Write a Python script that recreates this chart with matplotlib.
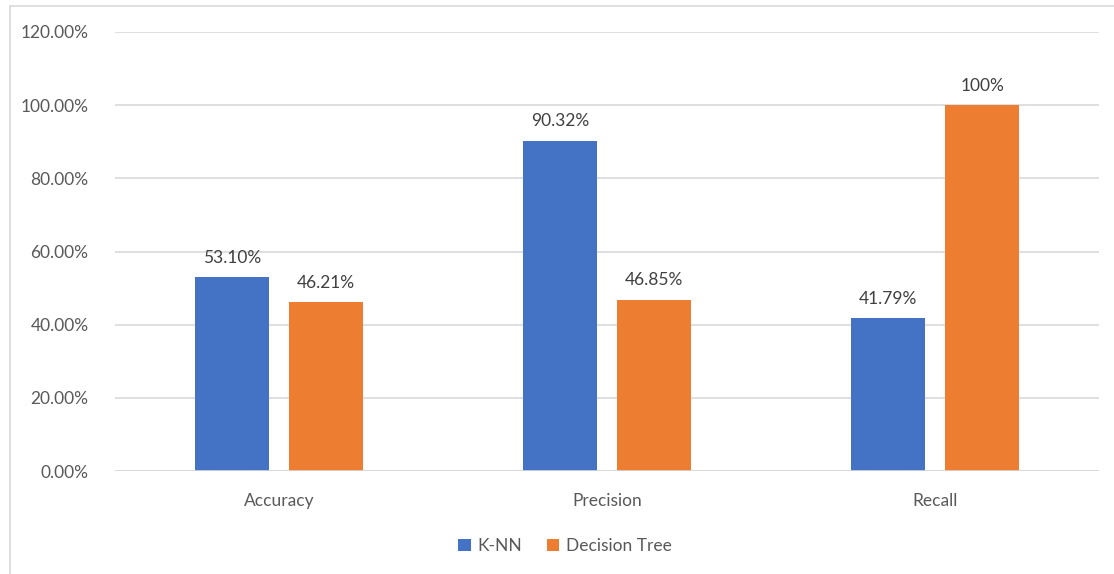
import numpy as np
import matplotlib
matplotlib.use('agg')
import matplotlib.pyplot as plt
from matplotlib.lines import Line2D

plt.rcParams['font.family'] = ['Lato', 'DejaVu Sans']

categories = ['Accuracy', 'Precision', 'Recall']
knn = [53.10, 90.32, 41.79]
dtree = [46.21, 46.85, 100.0]
knn_labels = ['53.10%', '90.32%', '41.79%']
dtree_labels = ['46.21%', '46.85%', '100%']
yticks = [0, 20, 40, 60, 80, 100, 120]

blue = '#4472C4'
orange = '#ED7D31'
txt = '#595959'
grid = '#D9D9D9'
fs = 12.5

fig = plt.figure(figsize=(11.14, 5.74), dpi=100)
ax = fig.add_axes([115 / 1114, 1 - 471 / 574, 984 / 1114, 439 / 574])

x = np.arange(len(categories))
w = 0.224
off = 0.144
b1 = ax.bar(x - off, knn, w, color=blue, label='K-NN', zorder=3)
b2 = ax.bar(x + off, dtree, w, color=orange, label='Decision Tree', zorder=3)

for bars, labs in [(b1, knn_labels), (b2, dtree_labels)]:
    for b, l in zip(bars, labs):
        ax.annotate(l, (b.get_x() + b.get_width() / 2, b.get_height()),
                    xytext=(0, 8), textcoords='offset points',
                    ha='center', va='bottom', fontsize=fs, color='#404040')

ax.set_xlim(-0.5, 2.5)
ax.set_ylim(0, 120)
ax.set_yticks(yticks)
ax.set_yticklabels(['%.2f%%' % t for t in yticks])
ax.set_xticks(x)
ax.set_xticklabels(categories)
ax.tick_params(axis='both', length=0, labelsize=fs, labelcolor=txt)
ax.tick_params(axis='y', pad=19)
ax.tick_params(axis='x', pad=16)
ax.grid(axis='y', color=grid, linewidth=1.2, zorder=0)
for s in ax.spines.values():
    s.set_visible(False)
ax.axhline(0, color=grid, linewidth=1.2, zorder=4)

fig.legend(handles=[b1, b2], loc='center', bbox_to_anchor=(565 / 1114, 1 - 546 / 574),
           ncol=2, frameon=False, fontsize=fs, labelcolor=txt,
           handlelength=0.7, handleheight=0.7, handletextpad=0.4, columnspacing=1.4)

# outer chart border (only left and top are visible in the crop)
fig.add_artist(Line2D([10 / 1114, 10 / 1114], [0, 1 - 6 / 574], color=grid, linewidth=1.2,
                      transform=fig.transFigure))
fig.add_artist(Line2D([10 / 1114, 1], [1 - 6 / 574, 1 - 6 / 574], color=grid, linewidth=1.2,
                      transform=fig.transFigure))

fig.savefig('out.png', dpi=100)
